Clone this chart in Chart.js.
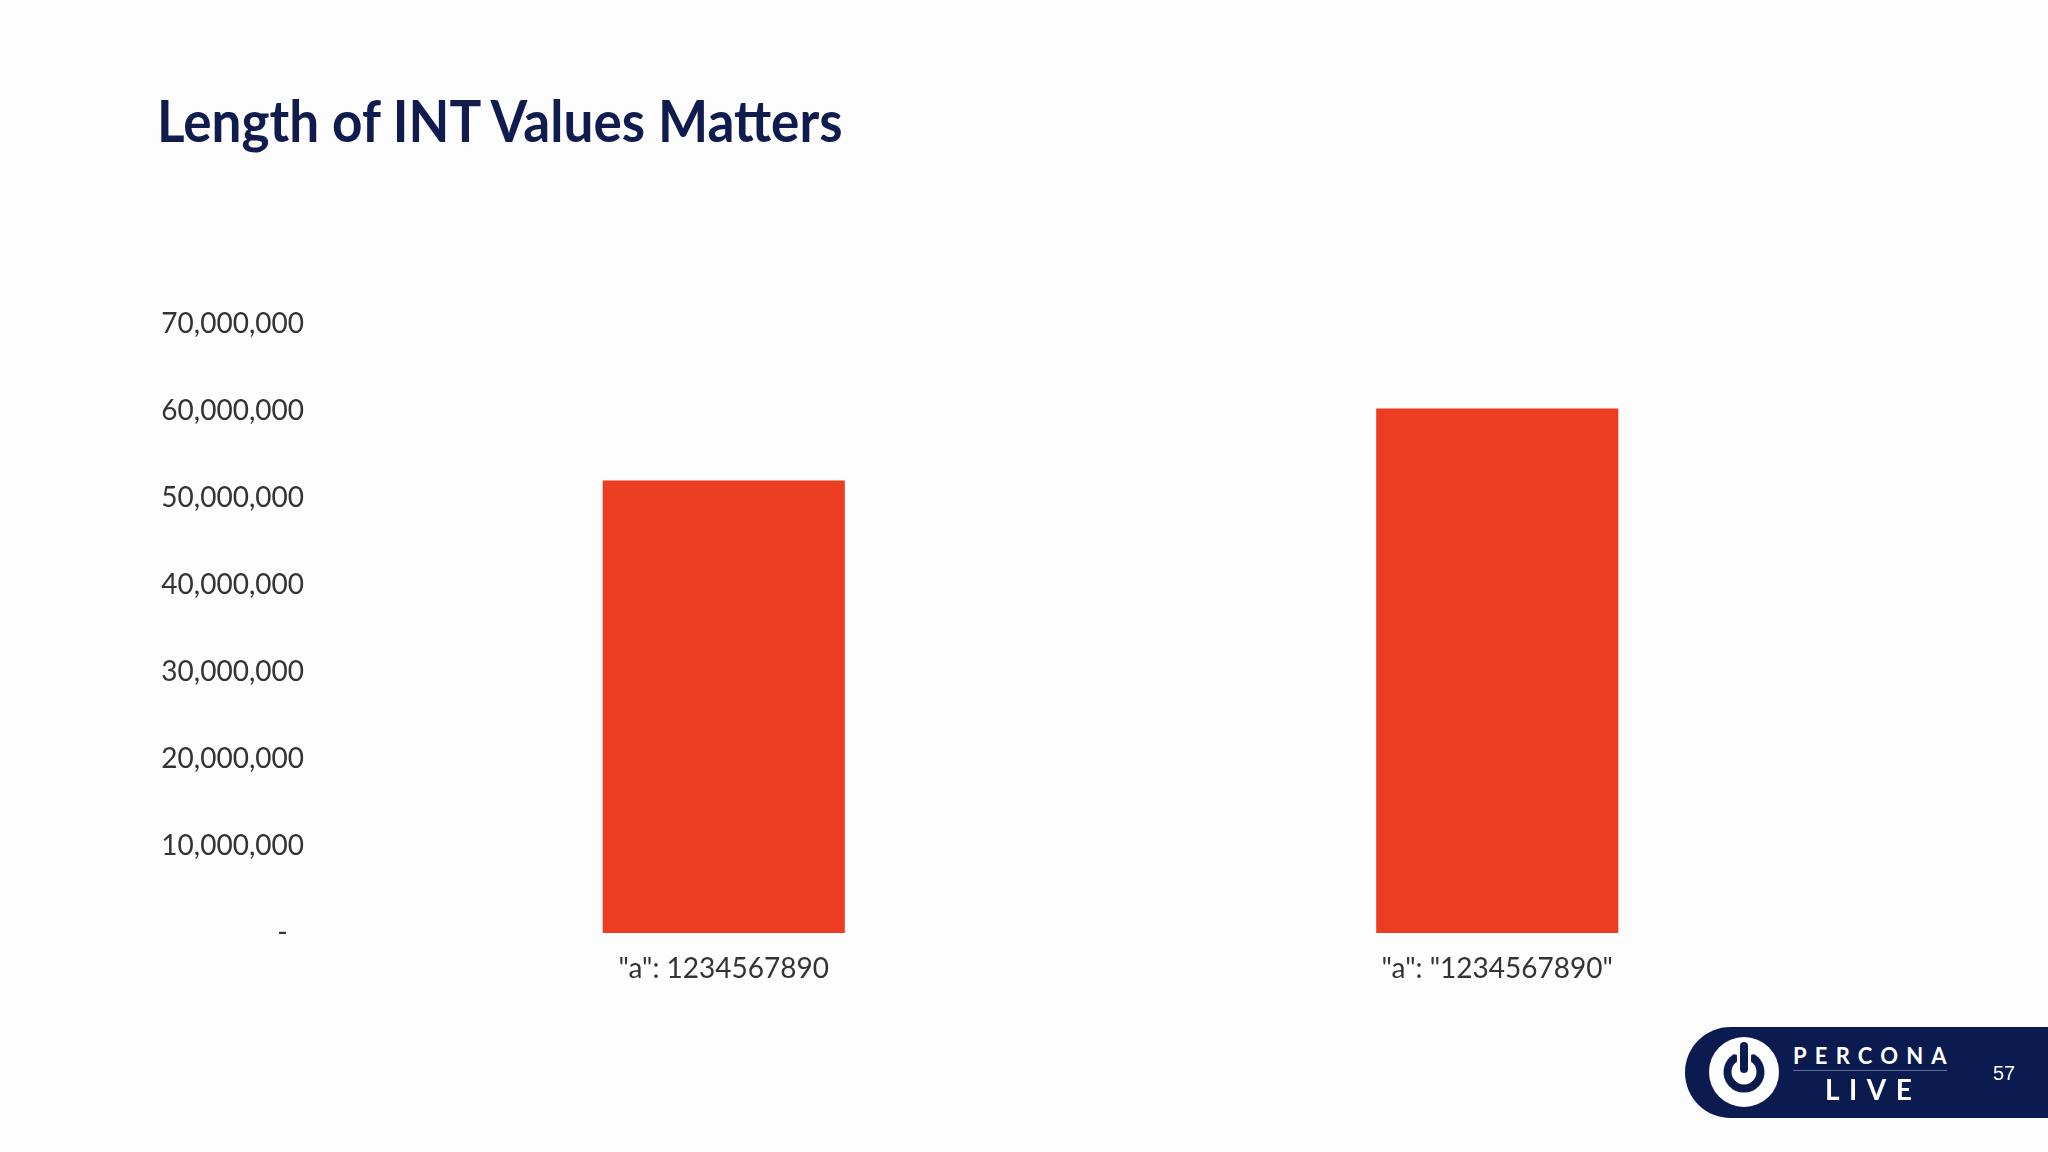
<!DOCTYPE html>
<html>
<head>
<meta charset="utf-8">
<script src="https://cdn.jsdelivr.net/npm/chart.js@4.4.0/dist/chart.umd.min.js"></script>
<style>
  html, body { margin: 0; padding: 0; background: #fdfdfd; }
  body { width: 2048px; height: 1152px; position: relative; overflow: hidden; }
  #title {
    position: absolute; left: 157px; top: 91px;
    font-family: Lato, sans-serif; font-weight: 700; font-size: 58px;
    color: #0f1c4d; white-space: nowrap; line-height: 1;
    transform: scaleX(0.915); transform-origin: left top;
  }
  #myChart { position: absolute; left: 0; top: 0; }
  #badge {
    position: absolute; left: 1685px; top: 1027px; width: 363px; height: 91px;
    background: #0b1b50; border-radius: 46px 0 0 46px;
  }
  #badge svg { position: absolute; left: 24px; top: 10px; }
  .brand { position: absolute; color: #fff; font-family: Lato, sans-serif; font-weight: 700; white-space: nowrap; line-height: 1; }
  #percona { left: 108px; top: 18px; font-size: 22px; letter-spacing: 8.2px; }
  #rule { position: absolute; left: 108px; top: 43px; width: 154px; height: 1px; background: #5d6e9a; }
  #live { left: 140px; top: 48px; font-size: 28px; letter-spacing: 9.5px; }
  #page { position: absolute; left: 308px; top: 36px; color: #fff; font-family: "Liberation Sans", Arial, sans-serif; font-size: 20px; line-height: 1; }
</style>
</head>
<body>
<div id="title">Length of INT Values Matters</div>
<canvas id="myChart" width="2048" height="1152"></canvas>
<div id="badge">
  <svg width="70" height="70" viewBox="-35 -35 70 70">
    <circle cx="0" cy="0" r="35" fill="#fff"/>
    <path d="M -9.5 -13.5 A 16.5 16.5 0 1 0 9.5 -13.5" fill="none" stroke="#0b1b50" stroke-width="8" stroke-linecap="round"/>
    <line x1="0" y1="-27" x2="0" y2="-2" stroke="#fff" stroke-width="14"/>
    <line x1="0" y1="-26" x2="0" y2="-3" stroke="#0b1b50" stroke-width="8" stroke-linecap="round"/>
  </svg>
  <div class="brand" id="percona">PERCONA</div>
  <div id="rule"></div>
  <div class="brand" id="live">LIVE</div>
  <div id="page">57</div>
</div>
<script>
const categories = ['"a": 1234567890', '"a": "1234567890"'];
const sizes = [52000000, 60300000];
const yTicks = [0, 10000000, 20000000, 30000000, 40000000, 50000000, 60000000, 70000000];

const ctx = document.getElementById('myChart');

new Chart(ctx, {
  type: 'bar',
  data: {
    labels: categories,
    datasets: [{
      label: '',
      data: sizes,
      backgroundColor: '#ec3c22',
      barPercentage: 0.313,
      categoryPercentage: 1
    }]
  },
  options: {
    responsive: false,
    animation: false,
    layout: {
      padding: { top: 324, right: 164, bottom: 69, left: 0 }
    },
    plugins: {
      legend: { display: false },
      tooltip: { enabled: false }
    },
    scales: {
      x: {
        grid: { display: false, drawTicks: false },
        border: { display: false },
        ticks: {
          color: '#333333',
          padding: 19,
          font: { family: 'Lato', size: 28 }
        },
        afterFit: (scale) => { scale.height = 150; }
      },
      y: {
        min: 0,
        max: 70000000,
        grid: { display: false, drawTicks: false },
        border: { display: false },
        afterBuildTicks: (scale) => { scale.ticks = yTicks.map(v => ({ value: v })); },
        ticks: {
          color: '#333333',
          padding: 33,
          font: { family: 'Lato', size: 28 },
          callback: (v) => v === 0 ? '-\u2007' : v.toLocaleString('en-US')
        },
        afterFit: (scale) => { scale.width = 337; }
      }
    }
  }
});
</script>
</body>
</html>
